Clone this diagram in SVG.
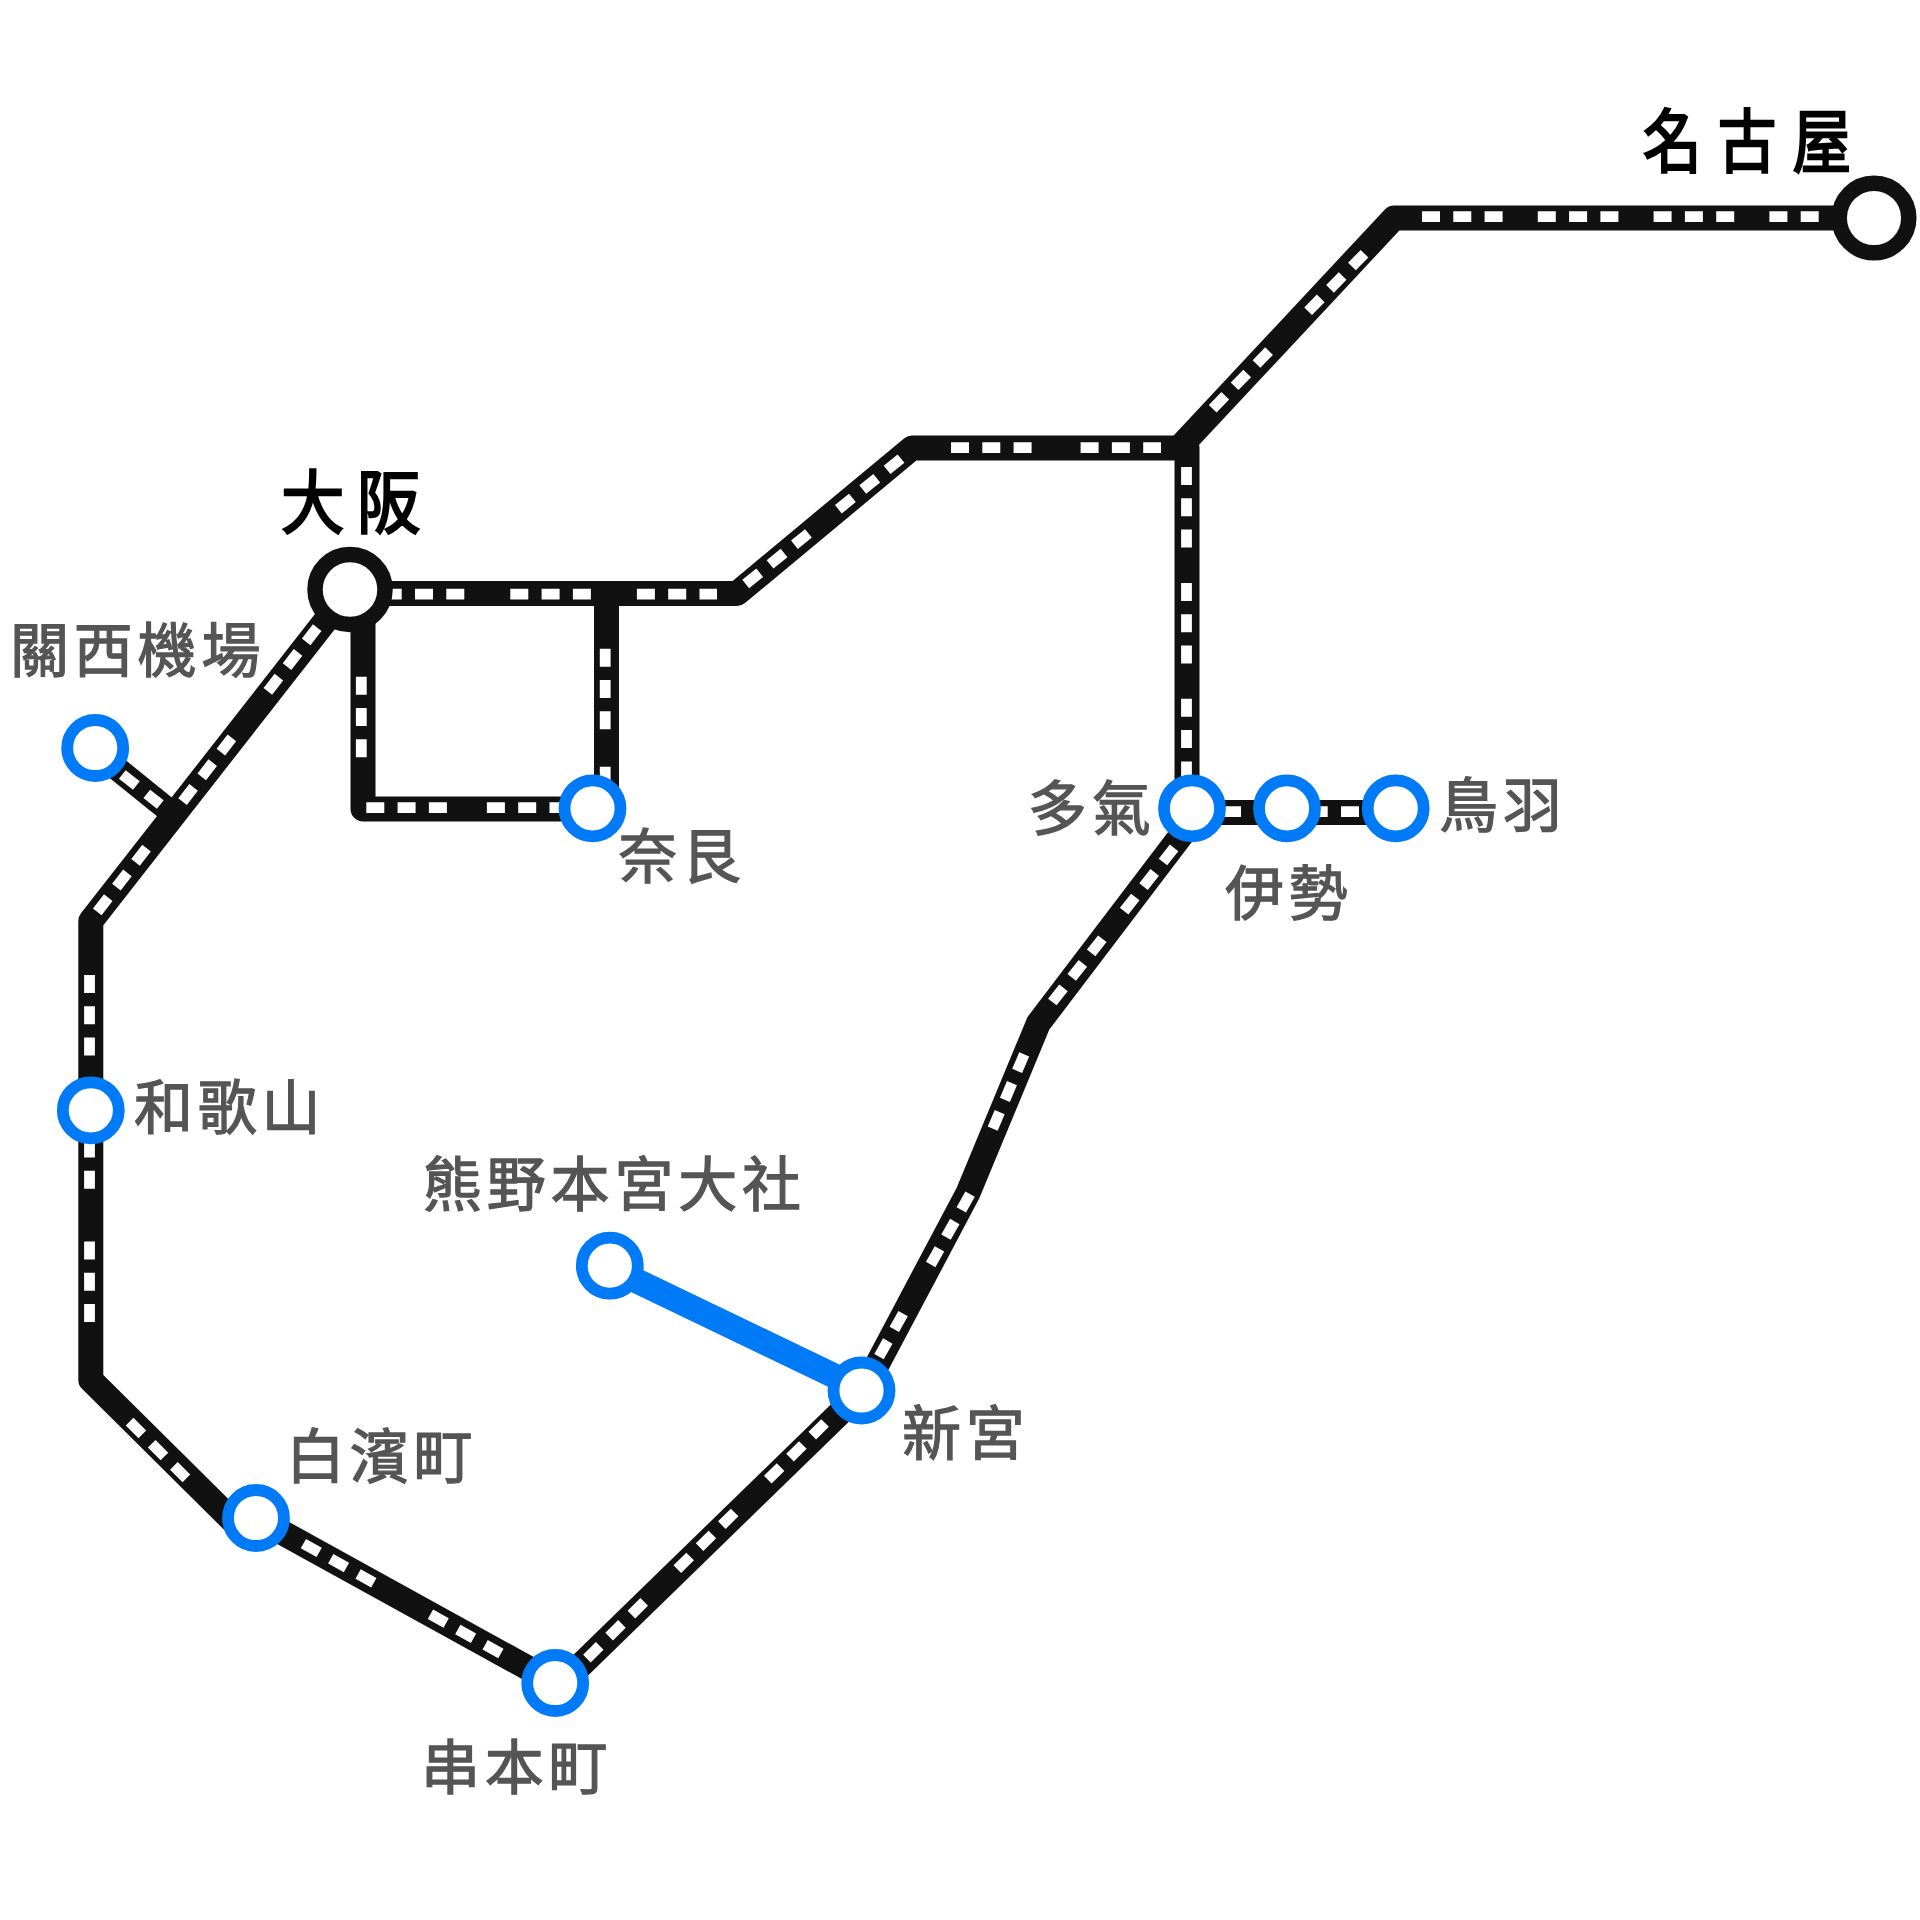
<svg xmlns="http://www.w3.org/2000/svg" width="1920" height="1920" viewBox="0 0 1920 1920">
<style>
.r{fill:none;stroke:#111;stroke-width:25;stroke-linejoin:round;stroke-linecap:butt}
.d{fill:none;stroke:#fff;stroke-width:10.8}
.b{fill:none;stroke:#007AF7;stroke-width:25}
.s{fill:#fff;stroke:#007AF7;stroke-width:11.8}
.h{fill:#fff;stroke:#111;stroke-width:15.5}
text{font-family:"Noto Sans CJK TC","Noto Sans CJK JP",sans-serif}
.g{font-size:59px;letter-spacing:4.8px;fill:#555;stroke:#555;stroke-width:1.3}
.k{font-size:69px;fill:#000;stroke:#000;stroke-width:2.4}
</style>
<rect width="1920" height="1920" fill="#fff"/>
<g id="connectors">
<path class="r" d="M350 593.5H737L912 448H1187V808"/>
<path class="r" d="M1180 447L1394 218H1874"/>
<path class="r" d="M363 590V809H592"/>
<path class="r" d="M606.5 593V808"/>
<path class="r" d="M350 589.5L90.8 921V1380L238 1526"/>
<path class="r" d="M256 1518L555 1683"/>
<path class="r" style="stroke-width:24" d="M95.2 751L172 813"/>
<path class="r" d="M555.2 1690L863.6 1390"/>
<path class="r" d="M1202 808L1038.4 1023.3L968 1193L863.6 1390"/>
<path class="r" d="M1192 812.5H1396"/>
<path class="d" stroke-dasharray="18 13.3 18 13.3 18 46" d="M383.7 594.2H717"/>
<path class="d" stroke-dasharray="18 13.3 18 13.3 18 38.5" d="M745.7 584L901 458.65"/>
<path class="d" stroke-dasharray="18 13.3 18 13.3 18 49" d="M951 447.7H1161"/>
<path class="d" stroke-dasharray="18 13.3 18 13.3 18 35.3" d="M1186.5 467V780"/>
<path class="d" stroke-dasharray="18 13.3 18 13.3 18 55.8" d="M1212.7 408.7L1364.6 253.6"/>
<path class="d" stroke-dasharray="18 13.3 18 13.3 18 35.2" d="M1422 216.7H1819"/>
<path class="d" stroke-dasharray="18 13.3 18 13.3 18 500" d="M361.3 676.7V758"/>
<path class="d" stroke-dasharray="18 13.3 18 13.3 18 40" d="M366.3 807.7H568"/>
<path class="d" stroke-dasharray="18 13.3 18 13.3 18 37.4" d="M605.2 648.7V785"/>
<path class="d" stroke-dasharray="18 13.3 18 13.3 18 58.8" d="M317.2 627.6L96.8 912.4"/>
<path class="d" stroke-dasharray="18 13.3 18" d="M122.3 774.4L160.3 804.6"/>
<path class="d" stroke-dasharray="18 13.3 18 13.3 18 52.6" d="M89.5 975V1322"/>
<path class="d" stroke-dasharray="18 13.3 18 13.3 18" d="M129.6 1421.6L186.4 1478.4"/>
<path class="d" stroke-dasharray="18 13.3 18 13.3 18 64.8" d="M303.4 1543.6L501.2 1653.7"/>
<path class="d" stroke-dasharray="18 13.3 18 13.3 18 46.6" d="M586.9 1658.6L825.1 1423"/>
<path class="d" stroke-dasharray="18 13.3 18 13.3 18 56.4" d="M970.1 1194.2L878.9 1356.9"/>
<path class="d" stroke-dasharray="18 13.3 18 13.3 18" d="M1024.2 1054.4L992.5 1129"/>
<path class="d" stroke-dasharray="18 13.3 18 13.3 18 35.2" d="M1174.1 847.9L1051.7 1002.8"/>
<path class="d" stroke-dasharray="18 68.7 18 13.3 18" d="M1223 811.7H1360"/>
<path class="b" d="M609.8 1268L863.6 1390"/>
</g>
<g id="n-nagoya"><circle class="h" cx="1874" cy="218" r="34.8"/><text class="k" transform="translate(1643 167) scale(.85 1)" letter-spacing="19">名古屋</text></g>
<g id="n-osaka"><circle class="h" cx="350" cy="589.5" r="35"/><text class="k" transform="translate(281 528) scale(.92 1)" letter-spacing="13.6">大阪</text></g>
<g id="n-kansai"><circle class="s" cx="95.2" cy="748" r="28"/><text class="g" x="10" y="672">關西機場</text></g>
<g id="n-nara"><circle class="s" cx="592.5" cy="808.3" r="28"/><text class="g" x="618" y="878">奈艮</text></g>
<g id="n-taki"><circle class="s" cx="1192" cy="808.3" r="28"/><text class="g" x="1028" y="830">多氣</text></g>
<g id="n-ise"><circle class="s" cx="1287" cy="808.3" r="28"/><text class="g" x="1225" y="915">伊勢</text></g>
<g id="n-toba"><circle class="s" cx="1395.7" cy="808.3" r="28"/><text class="g" x="1439" y="827">鳥羽</text></g>
<g id="n-wakayama"><circle class="s" cx="90.8" cy="1110.3" r="28"/><text class="g" x="134" y="1129">和歌山</text></g>
<g id="n-kumano"><circle class="s" cx="609.8" cy="1265.7" r="28"/><text class="g" x="423" y="1206">熊野本宮大社</text></g>
<g id="n-shingu"><circle class="s" cx="861.5" cy="1390.5" r="28"/><text class="g" x="902" y="1455">新宮</text></g>
<g id="n-shirahama"><circle class="s" cx="256" cy="1518" r="28"/><text class="g" x="286" y="1478">白濱町</text></g>
<g id="n-kushimoto"><circle class="s" cx="555.2" cy="1683" r="28"/><text class="g" x="421" y="1789">串本町</text></g>
</svg>
